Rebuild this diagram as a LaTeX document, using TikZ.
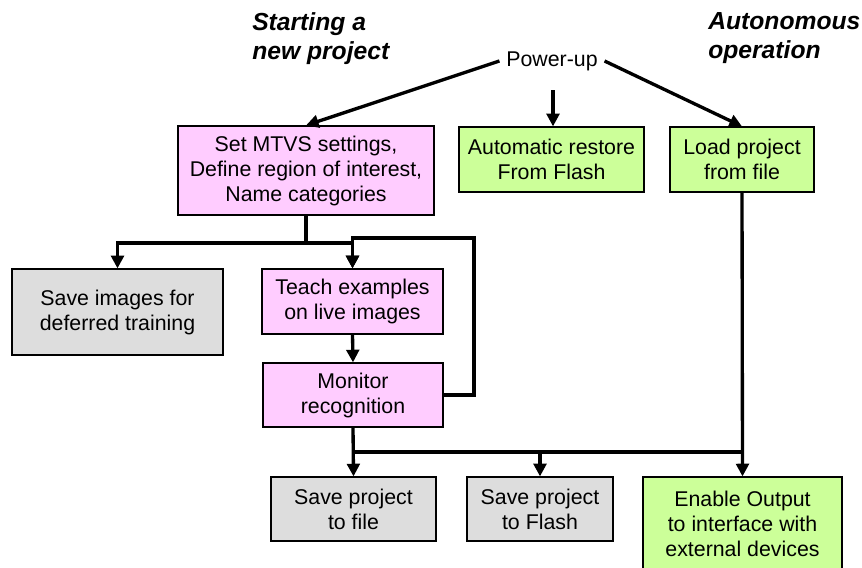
\documentclass[tikz,border=0pt]{standalone}
\usepackage{fontspec}
\setmainfont{Liberation Sans}
\usetikzlibrary{arrows.meta,calc}

\definecolor{pinkbox}{HTML}{FFCCFF}
\definecolor{greenbox}{HTML}{CCFF99}
\definecolor{graybox}{HTML}{DDDDDD}

% one drawing unit
\newdimen\unitpx
\unitpx=0.75pt

\tikzset{
  box/.style={draw=black, line width=0.9pt, rectangle, align=center, inner sep=0pt,
    font=\fontsize{16pt}{18.75pt}\selectfont},
  pinkstep/.style={box, fill=pinkbox},
  greenstep/.style={box, fill=greenbox},
  graystep/.style={box, fill=graybox},
  title/.style={align=left, inner sep=0pt, anchor=north west,
    font=\fontsize{18.5pt}{21.75pt}\selectfont\bfseries\itshape},
  link/.style={line width=2.5pt},
  arr/.style={link, -{Triangle[length=9.5pt,width=9.5pt]}},
}

\begin{document}
\begin{tikzpicture}[x=\unitpx, y=-\unitpx]
\useasboundingbox (0,0) rectangle (862,567);

% headings
\node[title] (hstart) at (252,12) {Starting a\\new project};
\node[title] (hauto) at (708,12) {Autonomous\\operation};

% start node
\node[inner xsep=5pt, inner ysep=2pt, font=\fontsize{16pt}{18pt}\selectfont] (pw) at (552,61) {Power-up};
\coordinate (pwb) at (553,90);

% boxes
\node[pinkstep, minimum width=256\unitpx, minimum height=89\unitpx] (set) at (306,170.5)
  {Set MTVS settings,\\Define region of interest,\\Name categories};
\node[greenstep, minimum width=185\unitpx, minimum height=65\unitpx] (auto) at (551.5,159.5)
  {Automatic restore\\From Flash};
\node[greenstep, minimum width=144\unitpx, minimum height=65\unitpx] (load) at (742,159.5)
  {Load project\\from file};
\node[graystep, minimum width=211\unitpx, minimum height=86\unitpx] (saveimg) at (117.5,312)
  {Save images for\\deferred training};
\node[pinkstep, minimum width=181\unitpx, minimum height=65\unitpx] (teach) at (352.5,301.5)
  {Teach examples\\on live images};
\node[pinkstep, minimum width=180\unitpx, minimum height=64\unitpx] (monitor) at (353,395)
  {Monitor\\recognition};
\node[graystep, minimum width=165\unitpx, minimum height=64\unitpx] (savefile) at (353.5,509)
  {Save project\\to file};
\node[graystep, minimum width=146\unitpx, minimum height=64\unitpx] (saveflash) at (540,509)
  {Save project\\to Flash};
\node[greenstep, minimum width=199\unitpx, minimum height=94\unitpx] (enable) at (742.5,524)
  {Enable Output\\to interface with\\external devices};

% power-up branches
\draw[arr] (pw.west) -- (set.north);
\draw[arr] (pwb) -- (auto.north -| pwb);
\draw[arr] (pw.east) -- (load.north);

% set-up fans out
\coordinate (j1) at (306,243);
\draw[link] (set.south) -- (j1);
\draw[arr] (j1) -| (saveimg.north);
\draw[arr] (j1) -| (teach.north);

% teach / monitor loop
\draw[arr] (teach.south) -- (monitor.north);
\coordinate (loop) at (474,238);
\draw[arr] (monitor.east) -| (loop) -| (teach.north);

% saving and output bus
\coordinate (bus) at (0,452);
\draw[arr] (monitor.south) -- (savefile.north);
\draw[link] (monitor.south |- bus) -- (load.south |- bus);
\draw[arr] (monitor.south |- bus) -| (saveflash.north);
\draw[arr] (load.south) -- (enable.north);
\end{tikzpicture}
\end{document}
